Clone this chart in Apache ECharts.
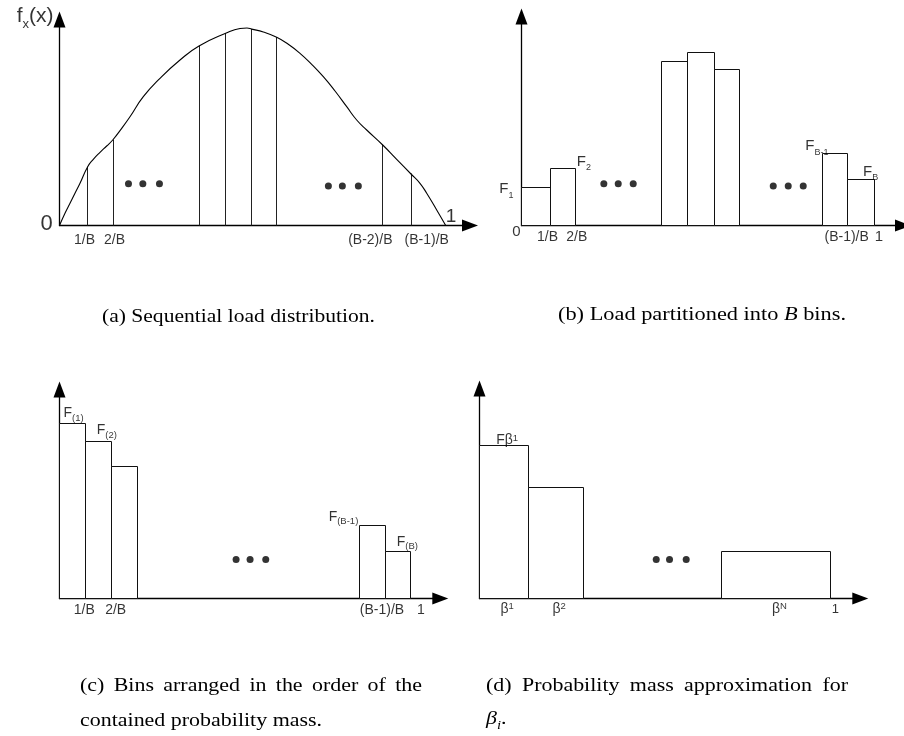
<!DOCTYPE html>
<html><head><meta charset="utf-8">
<script src="https://cdn.jsdelivr.net/npm/echarts@6/dist/echarts.min.js"></script>
<style>html,body{margin:0;padding:0;background:#fff}#c{width:904px;height:736px}</style>
</head><body><div id="c"></div>
<script>
// ================= DATA =================
// (a) sequential load distribution f_x(x)
const curveX = [0, 0.0142, 0.0272, 0.0401, 0.0531, 0.0730, 0.0875, 0.1049, 0.1222, 0.1378, 0.1611, 0.1825, 0.2170, 0.2602, 0.3120, 0.3612, 0.4303, 0.4674, 0.4855, 0.4977, 0.5277, 0.5624, 0.5924, 0.6227, 0.6530, 0.6831, 0.7134, 0.7437, 0.7695, 0.7954, 0.8369, 0.8731, 0.9101, 0.9334, 0.9508, 0.9767, 1.0];
const curveY = [0, 12.2, 22.2, 32.2, 42.2, 58.8, 66.2, 73.2, 79.5, 85.5, 97.2, 108.8, 128.8, 147.2, 165.5, 179.5, 192.2, 197.0, 197.5, 196.4, 193.5, 188.2, 181.2, 172.2, 161.2, 148.8, 134.5, 118.8, 105.5, 95.5, 80.5, 66.2, 51.5, 42.2, 32.2, 15.5, 0];
const cutX = [0.0725, 0.1398, 0.3615, 0.4306, 0.4979, 0.5626, 0.8359, 0.9120];
const cutH = [58.8, 86, 179.5, 192.5, 196.5, 188.5, 81, 52];
const dotsAX = [0.1786, 0.2158, 0.2588, 0.6962, 0.7324, 0.7738];
const dotsAY = [41.8, 41.8, 41.8, 39.5, 39.5, 39.5];
const tickTextA = ['1/B', '2/B', '(B-2)/B', '(B-1)/B'];

// (b) load partitioned into B bins
const binLeftB = [0, 0.0822, 0.397, 0.4716, 0.546, 0.8525, 0.9246];
const binRightB = [0.0822, 0.154, 0.4716, 0.546, 0.619, 0.9246, 1.0];
const binHeightB = [37.8, 57.5, 164.5, 172.8, 156.2, 71.8, 46.5];
const dotsBX = [0.2334, 0.2742, 0.3167, 0.7136, 0.7561, 0.7986];
const dotsBY = [41.8, 41.8, 41.8, 39.5, 39.5, 39.5];
const tickTextB = ['1/B', '2/B', '(B-1)/B', '1'];
const binTextB = ['{f|F}{s|1}', '{f|F}{s|2}', '{f|F}{s|B-1}', '{f|F}{s|B}'];

// (c) bins sorted by probability mass
const binLeftC = [0, 0.0739, 0.149, 0.8521, 0.9261];
const binRightC = [0.0739, 0.149, 0.2229, 0.9261, 1.0];
const binHeightC = [175, 157.3, 132, 72.6, 47];
const dotsCX = [0.5024, 0.5422, 0.5868];
const dotsCY = [39, 39, 39];
const tickTextC = ['1/B', '2/B', '(B-1)/B', '1'];
const binTextC = ['{f|F}{s|(1)}', '{f|F}{s|(2)}', '{f|F}{s|(B-1)}', '{f|F}{s|(B)}'];

// (d) probability mass approximation for beta_i
const binLeftD = [0, 0.14, 0.6895];
const binRightD = [0.14, 0.2963, 1.0];
const binHeightD = [152.6, 111, 46.6];
const dotsDX = [0.5028, 0.5406, 0.5881];
const dotsDY = [39, 39, 39];
const tickTextD = ['{f|β}{p|1}', '{f|β}{p|2}', '{f|β}{p|N}'];

// ================= LAYOUT =================
const P = [
  {left: 59.5, top: 19.5, width: 410.5, height: 206, xMax: 1.0629, yMax: 206},
  {left: 521.5, top: 16.5, width: 381.5, height: 209, xMax: 1.0814, yMax: 209},
  {left: 59.5, top: 389.5, width: 380.8, height: 209, xMax: 1.0834, yMax: 209},
  {left: 479.5, top: 388.5, width: 380.8, height: 210, xMax: 1.0834, yMax: 210}
];
const SANS = '"Liberation Sans", Arial, sans-serif';
const SERIF = '"Liberation Serif", "Times New Roman", serif';

function axisBase(i, max) {
  return {
    gridIndex: i, type: 'value', min: 0, max: max,
    axisLine: {show: true, onZero: false, symbol: ['none', 'triangle'], symbolSize: [12, 16],
      lineStyle: {color: '#000', width: 1.3}},
    axisTick: {show: false}, axisLabel: {show: false}, splitLine: {show: false}
  };
}
function barsSeries(i, L, R, H) {
  return {
    type: 'custom', xAxisIndex: i, yAxisIndex: i, clip: false, silent: true, z: 3,
    encode: {x: [0, 1], y: 2},
    data: L.map((l, k) => [l, R[k], H[k]]),
    renderItem: (p, api) => {
      const a = api.coord([api.value(0), 0]);
      const b = api.coord([api.value(1), api.value(2)]);
      const x0 = Math.floor(a[0]) + 0.5, x1 = Math.floor(b[0]) + 0.5;
      const y0 = Math.floor(a[1]) + 0.5, y1 = Math.floor(b[1]) + 0.5;
      return {type: 'rect', shape: {x: x0, y: y1, width: x1 - x0, height: y0 - y1},
        style: {fill: '#fff', stroke: '#111', lineWidth: 1}};
    }
  };
}
function dotsSeries(i, X, Y) {
  return {type: 'scatter', xAxisIndex: i, yAxisIndex: i, clip: false, silent: true, z: 4,
    symbolSize: 7, itemStyle: {color: '#000'}, data: X.map((x, k) => [x, Y[k]])};
}
function textSeries(i, items, rich) {
  return {
    type: 'scatter', xAxisIndex: i, yAxisIndex: i, clip: false, silent: true, z: 6,
    symbolSize: 1, itemStyle: {color: 'rgba(0,0,0,0)'},
    label: {show: true, position: 'inside', color: '#000', fontFamily: SANS, rich: rich},
    data: items.map(t => ({
      value: [t.x, t.y],
      label: {formatter: t.text, align: t.align || 'center', verticalAlign: 'middle',
        offset: t.off, fontSize: t.fs || 14}
    }))
  };
}

const series = [];
// ---- (a)
series.push({
  type: 'line', xAxisIndex: 0, yAxisIndex: 0, clip: false, silent: true, z: 3,
  smooth: 0.5, symbol: 'none', lineStyle: {color: '#000', width: 1.1},
  data: curveX.map((x, k) => [x, curveY[k]])
});
series.push({
  type: 'custom', xAxisIndex: 0, yAxisIndex: 0, clip: false, silent: true, z: 3,
  encode: {x: 0, y: 1},
  data: cutX.map((x, k) => [x, cutH[k]]),
  renderItem: (p, api) => {
    const a = api.coord([api.value(0), 0]);
    const b = api.coord([api.value(0), api.value(1)]);
    const x = Math.floor(a[0]) + 0.5;
    return {type: 'line', shape: {x1: x, y1: a[1], x2: x, y2: b[1]},
      style: {stroke: '#222', lineWidth: 1}};
  }
});
series.push(dotsSeries(0, dotsAX, dotsAY));
const tickAnchorA = [cutX[0], cutX[1], cutX[6], cutX[7]];
const tickOffA = [[-3, 14.5], [1, 14.5], [-12, 14.5], [15, 14.5]];
series.push(textSeries(0, [
  {x: 0, y: P[0].yMax, text: '{m|f}{s|x}{m|(x)}', align: 'right', off: [-6, -1]},
  {x: 0, y: 0, text: '0', fs: 22, off: [-13, -2]},
  {x: 1, y: 0, text: '1', fs: 19, off: [5.3, -9.2]}
].concat(tickTextA.map((t, k) => ({x: tickAnchorA[k], y: 0, text: t, off: tickOffA[k]}))),
  {m: {fontSize: 21, fontFamily: SANS, padding: [0, 0, 4, 0]},
   s: {fontSize: 13, fontFamily: SANS, verticalAlign: 'bottom'}}));

// ---- (b)
series.push(barsSeries(1, binLeftB, binRightB, binHeightB));
series.push(dotsSeries(1, dotsBX, dotsBY));
const tickAnchorB = [binRightB[0], binRightB[1], binLeftB[6], binRightB[6]];
const tickOffB = [[-3, 11.5], [1, 11.5], [-1, 11.5], [4.7, 11]];
const binAnchorB = [[binLeftB[0], binHeightB[0]], [binRightB[1], binHeightB[1]], [binLeftB[5], binHeightB[5]], [binRightB[6], binHeightB[6]]];
const binAlignB = ['right', 'left', 'left', 'right'];
const binOffB = [[-8, 3], [1, -5], [-17, -6], [4, -6]];
series.push(textSeries(1, [
  {x: 0, y: 0, text: '0', fs: 15, off: [-5, 6.5]}
].concat(tickTextB.map((t, k) => ({x: tickAnchorB[k], y: 0, text: t, fs: k === 3 ? 15 : 14, off: tickOffB[k]})))
 .concat(binTextB.map((t, k) => ({x: binAnchorB[k][0], y: binAnchorB[k][1], text: t, align: binAlignB[k], off: binOffB[k]}))),
  {f: {fontSize: 15, fontFamily: SANS, padding: [0, 0, 3, 0]},
   s: {fontSize: 9, fontFamily: SANS, verticalAlign: 'bottom'}}));

// ---- (c)
series.push(barsSeries(2, binLeftC, binRightC, binHeightC));
series.push(dotsSeries(2, dotsCX, dotsCY));
const tickAnchorC = [binRightC[0], binRightC[1], binLeftC[4], binRightC[4]];
const tickOffC = [[-1.2, 11.2], [3.8, 11.2], [-3, 11.2], [10, 11.2]];
const binAnchorC = [[binLeftC[0], binHeightC[0]], [binLeftC[1], binHeightC[1]], [binLeftC[3], binHeightC[3]], [binLeftC[4], binHeightC[4]]];
const binAlignC = ['left', 'left', 'right', 'left'];
const binOffC = [[4, -8.7], [11.2, -9.7], [-0.7, -7.7], [11.7, -8.3]];
series.push(textSeries(2,
  tickTextC.map((t, k) => ({x: tickAnchorC[k], y: 0, text: t, off: tickOffC[k]}))
  .concat(binTextC.map((t, k) => ({x: binAnchorC[k][0], y: binAnchorC[k][1], text: t, align: binAlignC[k], off: binOffC[k]}))),
  {f: {fontSize: 14, fontFamily: SANS, padding: [0, 0, 3, 0]},
   s: {fontSize: 9.5, fontFamily: SANS, verticalAlign: 'bottom'}}));

// ---- (d)
series.push(barsSeries(3, binLeftD, binRightD, binHeightD));
series.push(dotsSeries(3, dotsDX, dotsDY));
series.push(textSeries(3,
  [{x: (binLeftD[0] + binRightD[0]) / 2, y: binHeightD[0], text: '{f|Fβ}{p|1}', off: [3, -5.5]},
   {x: 1, y: 0, text: '1', fs: 13, off: [4.5, 10.7]}]
  .concat(tickTextD.map((t, k) => ({x: (binLeftD[k] + binRightD[k]) / 2, y: 0, text: t, off: [3, 10.3]}))),
  {f: {fontSize: 14, fontFamily: SANS},
   p: {fontSize: 9.5, fontFamily: SANS, verticalAlign: 'top'}}));

// ================= CAPTIONS =================
const CS = 18;
const ctx = document.createElement('canvas').getContext('2d');
function tw(t, italic) { ctx.font = (italic ? 'italic ' : '') + CS + 'px ' + SERIF; return ctx.measureText(t).width; }
const baseStyle = {fontSize: CS, fontFamily: SERIF, fill: '#000', verticalAlign: 'middle', textVerticalAlign: 'middle'};
const richBase = {
  n: {fontSize: CS, fontFamily: SERIF, padding: [0, 0, 4, 0]},
  i: {fontSize: CS, fontFamily: SERIF, fontStyle: 'italic', padding: [0, 0, 4, 0]},
  si: {fontSize: 12, fontFamily: SERIF, fontStyle: 'italic', verticalAlign: 'bottom'}
};
const capA = '(a) Sequential load distribution.';
const kA = 273 / tw(capA);
const capB = ['(b) Load partitioned into ', 'B', ' bins.'];
const kB = 288 / (tw(capB[0]) + tw(capB[1], true) + tw(capB[2]));
const K = (kA + kB) / 2;
function justified(words, target) {
  const sum = words.reduce((s, w) => s + tw(w), 0);
  const gap = (target / K - sum) / (words.length - 1);
  return {text: words.join('{g| }'), rich: Object.assign({g: {width: gap, fontSize: CS, fontFamily: SERIF}}, richBase)};
}
const cL1 = justified(['(c)', 'Bins', 'arranged', 'in', 'the', 'order', 'of', 'the'], 342);
const dL1 = justified(['(d)', 'Probability', 'mass', 'approximation', 'for'], 362);
const graphic = [
  {type: 'text', x: 102, y: 317.5, scaleX: kA, silent: true, style: Object.assign({text: capA}, baseStyle)},
  {type: 'text', x: 558, y: 317.5, scaleX: kB, silent: true,
   style: Object.assign({text: '{n|' + capB[0] + '}{i|B}{n|' + capB[2] + '}', rich: richBase}, baseStyle)},
  {type: 'text', x: 80, y: 686, scaleX: K, silent: true, style: Object.assign({text: cL1.text, rich: cL1.rich}, baseStyle)},
  {type: 'text', x: 80, y: 721, scaleX: K, silent: true, style: Object.assign({text: 'contained probability mass.'}, baseStyle)},
  {type: 'text', x: 486, y: 686, scaleX: K, silent: true, style: Object.assign({text: dL1.text, rich: dL1.rich}, baseStyle)},
  {type: 'text', x: 486, y: 721, scaleX: K, silent: true, style: Object.assign({text: '{i|β}{si|i}{n|.}', rich: richBase}, baseStyle)}
];

const option = {
  animation: false,
  backgroundColor: '#fff',
  grid: P.map(p => ({left: p.left, top: p.top, width: p.width, height: p.height, containLabel: false, outerBoundsMode: 'none'})),
  xAxis: P.map((p, i) => axisBase(i, p.xMax)),
  yAxis: P.map((p, i) => axisBase(i, p.yMax)),
  series: series,
  graphic: graphic
};
const chart = echarts.init(document.getElementById('c'), null, {renderer: 'canvas', width: 904, height: 736});
chart.setOption(option);
</script>
</body></html>
